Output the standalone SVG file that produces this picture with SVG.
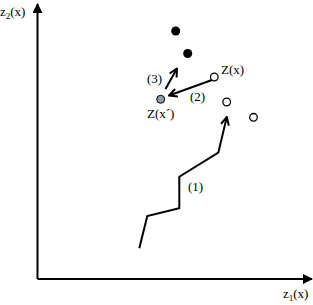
<svg xmlns="http://www.w3.org/2000/svg" width="313" height="305" viewBox="0 0 313 305">
<defs>
<style>
text{font-family:"Liberation Serif","Times New Roman",serif;font-size:13px;fill:#000}
.sub{font-size:9px}
.ax{stroke:#000;stroke-width:2;fill:none}
.ln{stroke:#000;stroke-width:2;fill:none}
.open{fill:#fff;stroke:#000;stroke-width:1.3}
.blk{fill:#000}
.gray{fill:#8a9ea3;stroke:#000;stroke-width:1}
</style>
<marker id="tri" viewBox="0 0 10 10" refX="9" refY="5" markerWidth="10" markerHeight="10" markerUnits="userSpaceOnUse" orient="auto">
<path d="M0,0 L10,5 L0,10 Z" fill="#000"/>
</marker>
<marker id="vee" viewBox="0 0 10 10" refX="9" refY="5" markerWidth="10" markerHeight="10" markerUnits="userSpaceOnUse" orient="auto">
<path d="M1,1 L9,5 L1,9" fill="none" stroke="#000" stroke-width="2"/>
</marker>
</defs>
<g id="axes">
<line class="ax" x1="37.5" y1="279" x2="37.5" y2="4" marker-end="url(#tri)"/>
<line class="ax" x1="37.5" y1="279" x2="312" y2="279" marker-end="url(#tri)"/>
<text x="0" y="16">z<tspan class="sub" dy="3">2</tspan><tspan dy="-3">(x)</tspan></text>
<text x="283" y="298">z<tspan class="sub" dy="3">1</tspan><tspan dy="-3">(x)</tspan></text>
</g>
<g id="connectors">
<polyline class="ln" points="139.3,248.3 147.3,216 179.3,208.3 179.3,176.7 218.3,152.7 226.8,117" marker-end="url(#vee)"/>
<line class="ln" x1="212" y1="80" x2="169" y2="95.5" marker-end="url(#vee)"/>
<line class="ln" x1="165.5" y1="89" x2="177" y2="68.5" marker-end="url(#vee)"/>
<text x="188" y="191">(1)</text>
<text x="190" y="101">(2)</text>
<text x="147" y="83">(3)</text>
</g>
<g id="p1"><circle class="blk" cx="175.7" cy="31" r="4.5"/></g>
<g id="p2"><circle class="blk" cx="187.7" cy="53.5" r="4.5"/></g>
<g id="zx"><circle class="open" cx="214.3" cy="77" r="3.8"/><text x="221" y="74">Z(x)</text></g>
<g id="zxp"><circle class="gray" cx="160.7" cy="99.3" r="4"/><text x="147" y="118">Z(x´)</text></g>
<g id="p3"><circle class="open" cx="226.7" cy="102" r="3.8"/></g>
<g id="p4"><circle class="open" cx="253.5" cy="117.3" r="3.8"/></g>
</svg>
